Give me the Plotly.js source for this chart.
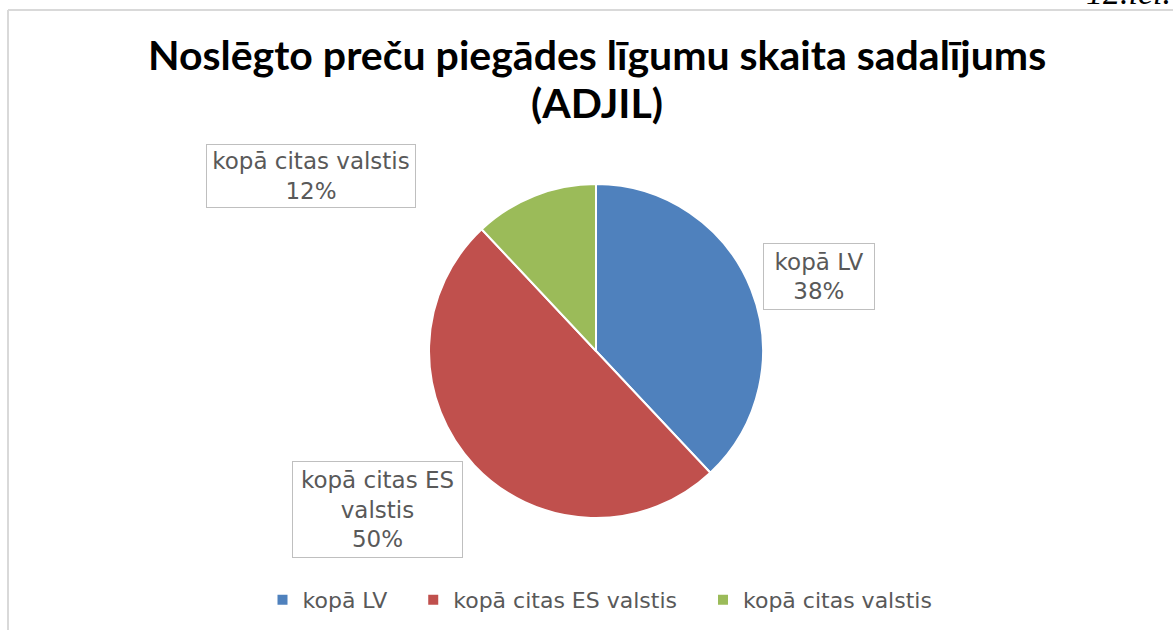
<!DOCTYPE html>
<html>
<head>
<meta charset="utf-8">
<script src="https://cdn.plot.ly/plotly-3.0.1.min.js"></script>
<style>html,body{margin:0;padding:0;background:#fff;}#chart{width:1173px;height:630px;}</style>
</head>
<body>
<div id="chart"></div>
<script>
var categories = ["kopā LV", "kopā citas ES valstis", "kopā citas valstis"];
var labelTexts = ["kopā LV", "kopā citas ES<br>valstis", "kopā citas valstis"];
var values = [38, 50, 12];
var colors = ["#4F81BD", "#C0504D", "#9BBB59"];
var titleLines = ["Noslēgto preču piegādes līgumu skaita sadalījums", "(ADJIL)"];
var cornerText = "12.iel.";

var W = 1173, H = 630;
function px(x){ return x / W; }
function py(y){ return 1 - y / H; }

var total = values.reduce(function(a,b){return a+b;}, 0);
var pct = values.map(function(v){ return Math.round(v / total * 100) + "%"; });

// legend entries: category names with trailing spacing (wider gaps like the original)
var legendLabels = categories.map(function(c, i){
  return i < categories.length - 1 ? c + "\u00a0\u00a0\u00a0" : c;
});

var labelFont = {family: "'DejaVu Sans', 'Open Sans', sans-serif", size: 23, color: "#595959"};

// label box geometry (pixels): [cx, cy, w, h]
var boxes = [[819, 276.5, 110, 65], [377.5, 509.5, 169, 95], [311, 175.5, 208, 62]];

var annotations = boxes.map(function(b, i){
  return {
    xref: "paper", yref: "paper", x: px(b[0]), y: py(b[1]),
    xanchor: "center", yanchor: "middle",
    text: labelTexts[i] + "<br>" + pct[i],
    showarrow: false, align: "center", valign: "middle",
    width: b[2], height: b[3],
    bgcolor: "#FFFFFF", bordercolor: "#BFBFBF", borderwidth: 1, borderpad: 0,
    font: labelFont
  };
});
// title lines
var titleY = [54, 103];
titleLines.forEach(function(t, i){
  annotations.push({
    xref: "paper", yref: "paper", x: px(597), y: py(titleY[i]),
    xanchor: "center", yanchor: "middle", showarrow: false,
    text: "<b>" + t + "</b>",
    font: {family: "Lato, 'Open Sans', sans-serif", size: 41, color: "#000000"}
  });
});
annotations.push({
  xref: "paper", yref: "paper", x: px(1173), y: py(13), xanchor: "right", yanchor: "bottom",
  text: "<i>" + cornerText + "</i>", showarrow: false,
  font: {family: "'Liberation Serif', serif", size: 34, color: "#000"}
});

var data = [{
  type: "pie",
  labels: legendLabels,
  values: values,
  marker: {colors: colors, line: {color: "#FFFFFF", width: 2}},
  sort: false,
  direction: "clockwise",
  rotation: 0,
  textinfo: "none",
  hoverinfo: "label+percent",
  domain: {x: [px(429), px(763)], y: [py(518), py(184)]}
}];

var layout = {
  width: W, height: H,
  margin: {l: 0, r: 0, t: 0, b: 0},
  paper_bgcolor: "#FFFFFF",
  font: {family: "'DejaVu Sans', sans-serif", color: "#595959"},
  showlegend: true,
  legend: {
    orientation: "h", x: px(600), xanchor: "center", y: py(600), yanchor: "middle",
    font: {family: "'DejaVu Sans', sans-serif", size: 22, color: "#595959"},
    itemclick: false, traceorder: "normal"
  },
  annotations: annotations,
  shapes: [
    {type: "line", xref: "paper", yref: "paper", x0: px(8), x1: 1, y0: py(10), y1: py(10), line: {color: "#D9D9D9", width: 2}},
    {type: "line", xref: "paper", yref: "paper", x0: px(8), x1: px(8), y0: py(10), y1: 0, line: {color: "#D9D9D9", width: 2}}
  ]
};

Plotly.newPlot("chart", data, layout, {displayModeBar: false, staticPlot: true});
</script>
</body>
</html>
